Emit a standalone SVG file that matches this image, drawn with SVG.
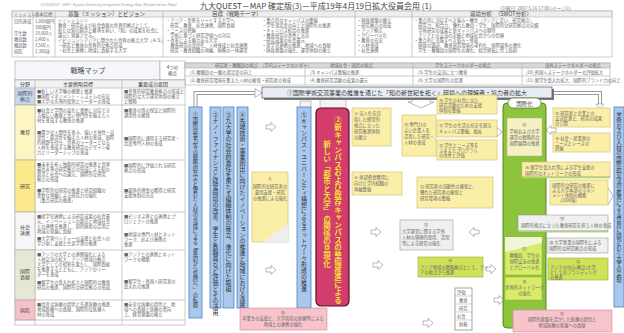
<svg xmlns="http://www.w3.org/2000/svg" width="624" height="333" viewBox="0 0 624 333">
<style>
text{font-family:"Noto Sans CJK JP","Noto Sans CJK SC",sans-serif}
.t{font-size:4.3px;fill:#666}
.h{font-size:5.5px;fill:#444}
.lb{font-size:5px;fill:#444;text-anchor:middle}
.v{font-size:6px;fill:#333;writing-mode:vertical-rl}
.cell{stroke:#aaa;stroke-width:0.6}
.bar{fill:#a9c8ee;stroke:#4f7fbf;stroke-width:0.8}
.yb{fill:#fbefa8;stroke:#c9bd6c;stroke-width:0.6}
.gb{fill:#f0f0f0;stroke:#999;stroke-width:0.6}
.yg{fill:#cfe25a;stroke:#98ae2e;stroke-width:0.6}
.pk{fill:#f7c4cc;stroke:#d28a98;stroke-width:0.6}
.ho{fill:none;stroke:#9a9a9a;stroke-width:4}
.hi{fill:none;stroke:#fff;stroke-width:2}
.ar{fill:#fff;stroke:#999;stroke-width:0.7}
</style>
<defs>
<path id="arr" d="M0,-2 H5 V-4.5 L10,0 L5,4.5 V2 H0 Z"/>
</defs>
<rect width="624" height="333" fill="#fff"/>

<g id="title">
<text x="40" y="6" style="font-size:3.5px;fill:#999">(九大QUEST－MAP : Kyushu University Integrated Strategy Map (Mission Action Map))</text>
<text x="200" y="9" style="font-size:8px;fill:#444">九大QUEST－MAP  確定版(3)－平成19年4月19日拡大役員会用  (1)</text>
<text x="500" y="10" style="font-size:4.5px;fill:#777">(記載日: 2007.5.16  17:00  (ページ1))</text>
</g>

<g id="header">
<rect x="12" y="11" width="600" height="46" fill="#fff" class="cell"/>
<rect x="12" y="11" width="600" height="6" fill="#eee" class="cell"/>
<line x1="33" y1="11" x2="33" y2="57" class="cell"/>
<line x1="55" y1="11" x2="55" y2="57" class="cell"/>
<line x1="163" y1="11" x2="163" y2="57" class="cell"/>
<line x1="355" y1="11" x2="355" y2="57" class="cell"/>
<line x1="412" y1="11" x2="412" y2="57" class="cell"/>
<text x="14" y="15.5" class="t">ミッション</text><text x="35" y="15.5" class="t">基本目標</text>
<text x="68" y="15.8" class="h">基盤（ミッション）とビジョン</text>
<text x="212" y="15.8" class="h">目標（戦略テーマ）</text>
<text x="470" y="15.8" class="h">環境分析　（SWOT分析）</text>
<g class="t">
<text x="14" y="23">目的達成</text><text x="35" y="23">1,000億円</text>
<text x="35" y="29">300億円</text>
<text x="14" y="35">学生数</text><text x="35" y="35">19,000人</text>
<text x="14" y="41">教員数</text><text x="35" y="41">2,400人</text>
<text x="14" y="47">職員数</text><text x="35" y="47">3,500人</text>
<text x="14" y="53">病院</text><text x="35" y="53">1,300床</text>
<text x="58" y="22">＜ミッション＞</text>
<text x="58" y="27">教育・研究および社会貢献の世界的拠点として、</text>
<text x="58" y="32">新たな知の創造と継承を担い、「知」の成果を社会に</text>
<text x="58" y="37">還元し発展させる。</text>
<text x="58" y="42">＜ビジョン＞アジアに開かれた世界の拠点大学（ＡＳ）</text>
<text x="58" y="47">・研究と教育の世界的な拠点形成</text>
<text x="58" y="52">・社会と連携し地域に貢献する大学</text>
<text x="166" y="22">・アジア・世界をリードする大学へ</text>
<text x="166" y="27">　研究、教育、社会連携、国際貢献</text>
<text x="166" y="32">・ニーズの把握</text>
<text x="166" y="37">　学術に基づく研究評価への対応</text>
<text x="166" y="42">・改革による魅力ある大学</text>
<text x="166" y="47">　教育研究の高度化、人材育成と社会連携</text>
<text x="166" y="52">　研究・教育組織の再編、財務の一体運営</text>
<text x="262" y="22">・重点的なキャンパスの整備</text>
<text x="262" y="27">・学生満足度の向上と国際化の推進</text>
<text x="262" y="32">・キャンパス統合の推進</text>
<text x="262" y="37">・教育研究の改善と充実</text>
<text x="262" y="42">・研究成果の社会還元</text>
<text x="262" y="47">・産学官連携の推進、地域への貢献</text>
<text x="262" y="52">・財政基盤の強化、運営体制の確立</text>
<text x="357" y="22">・財政基盤の確立</text>
<text x="357" y="27">・研究拠点の形成</text>
<text x="357" y="32">・アジア拠点</text>
<text x="357" y="37">・グローバル化</text>
<text x="357" y="42">・教育の充実</text>
<text x="357" y="47">・人材育成</text>
<text x="357" y="52">・社会連携</text>
<text x="414" y="22">・重点的に対応すべき強み・機会（アジアに近い、研究拠点）</text>
<text x="414" y="27">　研究力、総合力、優れた教員・学生、国際的な研究拠点の実績</text>
<text x="414" y="32">　学術研究の成果と新キャンパスへの期待</text>
<text x="414" y="37">　アジアとの交流の実績と地域社会からの信頼</text>
<text x="414" y="42">・重点的に克服すべき弱み・脅威</text>
<text x="414" y="47">　財政の逼迫、教育研究環境の老朽化、国際競争の激化</text>
<text x="414" y="52">　学生・教職員の国際化の遅れ、統合移転に伴う負担</text>
</g>
</g>

<g id="perspectives">
<rect x="15" y="61" width="145" height="19" fill="#f4f6fa" class="cell"/>
<text x="88" y="73" style="font-size:7px;fill:#444;text-anchor:middle">戦略マップ</text>
<rect x="160" y="61" width="25" height="19" fill="#fff" class="cell"/>
<text x="172.5" y="69" class="lb" style="font-size:4.5px">4つの</text>
<text x="172.5" y="75" class="lb" style="font-size:4.5px">視点</text>
<rect x="185" y="63" width="425" height="22" fill="#fff" class="cell"/>
<rect x="185" y="63" width="425" height="5" fill="#d8d8d8" class="cell"/>
<line x1="305" y1="63" x2="305" y2="85" class="cell"/>
<line x1="413" y1="63" x2="413" y2="85" class="cell"/>
<line x1="522" y1="63" x2="522" y2="85" class="cell"/>
<line x1="185" y1="76" x2="610" y2="76" class="cell"/>
<g class="t">
<text x="215" y="67">研究者・教職員の視点　（学内ステークホルダー）</text>
<text x="330" y="67">地域社会・国民の視点</text>
<text x="435" y="67">学生ステークホルダーの視点</text>
<text x="545" y="67">海外ステークホルダーの視点</text>
<text x="190" y="73.5">(1) 教職員の一層の満足度の向上</text>
<text x="190" y="82">(2) 教育研究環境を整えた人材の確保・研究者の育成</text>
<text x="310" y="73.5">(3) キャンパス整備の推進</text>
<text x="310" y="82">(4) 教育研究活動の成果の還元</text>
<text x="418" y="73.5">(5) 学生の交流に立つ教育</text>
<text x="418" y="82">(6) 大学の国際化の促進</text>
<text x="526" y="73.5">(10) 外国人ステークホルダーの評価拡大</text>
<text x="526" y="82">(11) 留学生受入れ拡大、国際的ブランド力の向上</text>
</g>
</g>

<g id="left-table">
<rect x="15" y="80" width="170" height="245" fill="#fff" class="cell"/>
<rect x="15" y="80" width="170" height="8" fill="#f2f2f2" class="cell"/>
<text x="25" y="86" class="lb">分野</text>
<text x="78" y="86" class="lb">主要戦略目標</text>
<text x="153" y="86" class="lb">重要成功要因</text>
<line x1="35" y1="80" x2="35" y2="325" class="cell"/>
<line x1="122" y1="80" x2="122" y2="325" class="cell"/>
<rect x="15" y="88" width="20" height="17" fill="#c6d6f0" class="cell"/>
<rect x="15" y="105" width="20" height="55" fill="#fdf5c2" class="cell"/>
<rect x="15" y="160" width="20" height="52" fill="#fbe98c" class="cell"/>
<rect x="15" y="212" width="20" height="38" fill="#f6f6f6" class="cell"/>
<rect x="15" y="250" width="20" height="50" fill="#e6e8d6" class="cell"/>
<rect x="15" y="300" width="20" height="20" fill="#f5c0c8" class="cell"/>
<line x1="35" y1="105" x2="185" y2="105" class="cell"/>
<line x1="35" y1="160" x2="185" y2="160" class="cell"/>
<line x1="35" y1="212" x2="185" y2="212" class="cell"/>
<line x1="35" y1="250" x2="185" y2="250" class="cell"/>
<line x1="35" y1="300" x2="185" y2="300" class="cell"/>
<line x1="15" y1="320" x2="185" y2="320" class="cell"/>
<g class="lb">
<text x="25" y="95">国際的</text><text x="25" y="101">拠点</text>
<text x="25" y="134">教育</text>
<text x="25" y="188">研究</text>
<text x="25" y="229">社会</text><text x="25" y="235">連携</text>
<text x="25" y="273">国際</text><text x="25" y="279">貢献</text>
<text x="25" y="312">病院</text>
</g>
<g class="t">
<text x="37" y="93">■新しい大学像の構築と推進</text>
<text x="37" y="98">■国際マネジメント・システムの充実</text>
<text x="37" y="103">■大学の先導的役割とリーダーの育成</text>
<text x="124" y="93">■世界的研究教育拠点の形成と</text>
<text x="124" y="98">国際的な大学運営体制の確立</text>
<text x="124" y="103">と戦略</text>
<text x="37" y="112">■社会と学問の変化に柔軟に対応でき</text>
<text x="37" y="117">る幅広い教養と高い専門性を備えた人</text>
<text x="37" y="122">材を育成する教育の推進</text>
<text x="37" y="134">■豊かな人間性を育み、強い主体性・自</text>
<text x="37" y="139">律性・創造性を備えた人材の育成、国際</text>
<text x="37" y="144">的視野を持ち、世界のリーダーとなる</text>
<text x="37" y="149">人材を育成する教育研究のデザイン能</text>
<text x="37" y="154">力とリーダーシップの育成</text>
<text x="124" y="112">■教育の質の保証と国際的</text>
<text x="124" y="117">通用性の確保</text>
<text x="124" y="140">■国際的に通用する研究者・</text>
<text x="124" y="145">高度専門人材の育成</text>
<text x="37" y="166">■未来を拓く独創的研究の推進と世界</text>
<text x="37" y="171">最高水準の研究拠点の形成による知の</text>
<text x="37" y="176">創造と社会への還元、国際的な研究</text>
<text x="37" y="181">拠点の形成</text>
<text x="37" y="192">■学際的な研究の推進と研究組織の</text>
<text x="37" y="197">柔軟な再編による研究力の強化</text>
<text x="37" y="202">（重点研究の推進）</text>
<text x="124" y="167">■国際的に評価される研究</text>
<text x="124" y="172">拠点の形成</text>
<text x="124" y="192">■競争的資金の獲得と研究</text>
<text x="124" y="197">支援体制の充実</text>
<text x="37" y="218">■産学官連携による研究成果の社会還</text>
<text x="37" y="223">元、イノベーションの創出と地域社会</text>
<text x="37" y="228">との連携を推進し、知的財産の活用と</text>
<text x="37" y="233">地域の発展に貢献</text>
<text x="37" y="240">■大学発ベンチャーの支援と社会人の</text>
<text x="37" y="245">学び直し支援と生涯学習の推進</text>
<text x="124" y="218">■ビジネス界との連携とプ</text>
<text x="124" y="223">ロジェクトの推進</text>
<text x="124" y="236">■地域の専門人材とネット</text>
<text x="124" y="241">ワーク、および連携の</text>
<text x="124" y="246">推進</text>
<text x="37" y="256">■アジアの大学との連携強化による</text>
<text x="37" y="261">人材交流の拡大、アジア地域の拠点</text>
<text x="37" y="266">大学としての役割を果たし、国際貢献</text>
<text x="37" y="271">を推進するとともに、アジアのリー</text>
<text x="37" y="276">ダーを育成</text>
<text x="37" y="284">■留学生の受入れ拡大と国際的な教育</text>
<text x="37" y="289">研究の推進、国際的な研究拠点の形成</text>
<text x="124" y="256">■アジアとの連携とネット</text>
<text x="124" y="261">ワークの構築</text>
<text x="124" y="283">■留学生・外国人研究者の</text>
<text x="124" y="288">受入れの推進</text>
<text x="37" y="306">■高度な医療の提供と先進医療の推進、</text>
<text x="37" y="311">地域医療への貢献、国際的な医療人</text>
<text x="37" y="316">材の育成</text>
<text x="124" y="306">■安全な医療の提供と、地</text>
<text x="124" y="311">域への貢献と医療の質向</text>
<text x="124" y="316">上、経営基盤の確立</text>
</g>
</g>

<g id="connectors">
<path d="M195.5,108 V93 H256" class="ho"/><path d="M195.5,108 V93 H256" class="hi"/>
<path d="M255,88.5 L262,93 L255,97.5 Z" class="ar"/>
<path d="M552,93 H600 V106" class="ho"/><path d="M552,93 H600 V106" class="hi"/>
<path d="M596,104 L600,109 L604,104 Z" class="ar"/>
<path d="M320,108 V99 H346 V108" fill="#f3f3f3" stroke="#aaa" stroke-width="0.7"/>
<path d="M300,108 V101 H311 V108" fill="#f3f3f3" stroke="#aaa" stroke-width="0.7"/>
<path d="M412,98 H430 V102 H434 L421,108 L408,102 H412 Z" class="ar"/>
<use href="#arr" x="266" y="127" class="ar"/>
<use href="#arr" x="266" y="270" class="ar"/>
<use href="#arr" x="371" y="232" class="ar"/>
<use href="#arr" x="373" y="265" class="ar"/>
<use href="#arr" x="492" y="132" class="ar"/>
<use href="#arr" transform="translate(556,130) rotate(180)" class="ar"/>
<use href="#arr" transform="translate(479,232) rotate(180)" class="ar"/>
<use href="#arr" x="486" y="269" class="ar"/>
<use href="#arr" x="423" y="323" class="ar"/>
<use href="#arr" x="494" y="300" class="ar"/>
<path d="M608,188 L613,196 L608,205 L603,196 Z" class="ar"/>
</g>

<g id="banner">
<rect x="264" y="89" width="290" height="11" fill="#7a7a7a"/>
<rect x="262" y="87" width="290" height="11" fill="#e9eef5" stroke="#555" stroke-width="0.7"/>
<text x="407" y="94.5" style="font-size:6px;fill:#333;text-anchor:middle">①国際学術交流事業の推進を通じた「知の新世紀を拓く」環境への理解者・協力者の拡大</text>
</g>

<g id="bar1"><rect x="189" y="107" width="13" height="211" class="bar"/>
<text x="195.5" y="112" class="v" style="font-size:5.3px">①国際競争力等の戦略的充実と優れた人材の育成による「量的から質的へ」の転換</text></g>
<g id="bar2"><rect x="210" y="107" width="11" height="201" class="bar"/>
<text x="215.5" y="112" class="v">②ナノ・ファイナンスと経営環境の改善、学生と教職員など評価とその活用</text></g>
<g id="bar3"><rect x="223" y="107" width="11" height="201" class="bar"/>
<text x="228.5" y="112" class="v">③九大学の社会的責任を果たす組織体制の確立、進化に向けた取組</text></g>
<g id="bar4"><rect x="237" y="107" width="11" height="201" class="bar"/>
<text x="242.5" y="112" class="v">④先端技術・事業創出に向けたイノベーションの推進と地域における連携</text></g>
<g id="bar5"><rect x="297" y="107" width="14" height="201" class="bar"/>
<text x="304" y="112" class="v">⑤キャンパス・ユニバーシティ構想によるネットワーク形成の推進</text></g>

<g id="red-box">
<rect x="316" y="108" width="33" height="198" rx="5" fill="#d23d6b" stroke="#5a1028" stroke-width="1.2"/>
<text x="338" y="116" class="v" style="font-size:7.5px;fill:#f7df3a;font-weight:bold">②新キャンパスおよび既存キャンパスの整備推進による</text>
<text x="327" y="140" class="v" style="font-size:7.5px;fill:#f7df3a;font-weight:bold">新しい「都市と大学」の関係の具現化</text>
</g>

<g id="green-col">
<rect x="503" y="103" width="43" height="225" rx="4" fill="#8cc43e" stroke="#4d7a1e" stroke-width="0.9"/>
<rect x="508" y="98" width="33" height="10" rx="5" fill="#fff" stroke="#4d7a1e" stroke-width="0.7"/>
<text x="524.5" y="105.5" class="lb" style="font-size:5.5px">国際化</text>
<rect x="507" y="118" width="35" height="38" fill="#f5f1c4" stroke="#b8b070" stroke-width="0.5"/>
<g class="t" style="text-anchor:middle"><text x="524.5" y="126">⑫</text><text x="524.5" y="133">学術および大学</text><text x="524.5" y="139">運営の戦略的な</text><text x="524.5" y="145">国際展開の推進</text></g>
<path d="M505,237 H542 V275 H505 Z" fill="#d9ec6a" stroke="#98ae2e" stroke-width="0.5"/>
<path d="M505,237 H542 V243 L505,252 Z" fill="#f0f4d8"/>
<g class="t" style="text-anchor:middle"><text x="524.5" y="250">⑰</text><text x="524.5" y="257">教職員、学生の</text><text x="524.5" y="263">国際交流の推進</text><text x="524.5" y="269">とグローバル化</text></g>
<rect x="505" y="277" width="37" height="23" fill="#d9ec6a" stroke="#98ae2e" stroke-width="0.5"/>
<g class="t" style="text-anchor:middle"><text x="524.5" y="283">⑱</text><text x="524.5" y="289">世界的ネットワーク</text><text x="524.5" y="295">の強化</text></g>
</g>

<g id="box-y1"><rect x="352" y="108" width="39" height="38" class="yb"/>
<g class="t"><text x="354" y="115">⑤ 法人化を目</text><text x="354" y="121">指した経営的</text><text x="354" y="127">視点に立った</text><text x="354" y="133">研究推進体制</text><text x="354" y="139">の確立</text></g></g>
<g id="box-y2"><rect x="352" y="172" width="50" height="23" class="yb"/>
<g class="t"><text x="354" y="179">⑥ 外部資金獲得に</text><text x="354" y="185">向けた学内組織の</text><text x="354" y="191">再編整備</text></g></g>
<g id="box-y3"><path d="M252,172 H288 V242 H252 Z" class="yb"/>
<path d="M288,224 V242 H262 Z" fill="#eee"/>
<g class="t" style="text-anchor:middle"><text x="270" y="180">⑧</text><text x="270" y="188">国際的な研究者の</text><text x="270" y="194">雇用支援・研究</text><text x="270" y="200">の推進による強化</text></g></g>
<g id="box-y4"><rect x="402" y="115" width="34" height="41" class="yb"/>
<g class="t"><text x="404" y="126">⑨ 専門力の</text><text x="404" y="132">よい企業人を</text><text x="404" y="138">活用した研究・</text><text x="404" y="144">人材の育成</text></g></g>
<g id="box-y5"><rect x="437" y="95" width="60" height="19" class="yb"/>
<g class="t"><text x="439" y="102">⑩ 学生の社会に出た</text><text x="439" y="107">研究活動のための支援</text><text x="439" y="112">体制の整備</text></g></g>
<g id="box-y6"><rect x="437" y="120" width="60" height="17" class="yb"/>
<g class="t"><text x="439" y="127">⑪ 学生の生活の充実を図る</text><text x="439" y="133">キャンパス整備、福祉</text></g></g>
<g id="box-y7"><rect x="437" y="140" width="60" height="20" class="yb"/>
<g class="t"><text x="439" y="147">⑫ 学生とニーズ等を</text><text x="439" y="152">ふまえたプログラム</text><text x="439" y="157">の改善と評価</text></g></g>
<g id="box-y8"><rect x="553" y="108" width="57" height="19" class="yb"/>
<g class="t"><text x="555" y="115">⑭ 研究者と企業との</text><text x="555" y="120">交流促進と、研究の成果</text><text x="555" y="125">の公開</text></g></g>
<g id="box-y9"><rect x="553" y="133" width="57" height="19" class="yb"/>
<g class="t"><text x="555" y="140">⑮ 社会・産業界の</text><text x="555" y="145">ニーズとシーズの</text><text x="555" y="150">把握</text></g></g>
<g id="box-y10"><rect x="522" y="162" width="88" height="16" class="yb"/>
<line x1="522" y1="177" x2="610" y2="177" stroke="#8cc43e" stroke-width="1.2"/>
<g class="t"><text x="525" y="169">⑯ 留学生受入れ等による学生支援の</text><text x="525" y="175">国際的なネットワークの形成</text></g></g>
<g id="box-y11"><rect x="417" y="177" width="76" height="31" class="yb"/>
<g class="t"><text x="420" y="188">⑬ 研究者の流動性の確保と、</text><text x="420" y="194">優れた研究者の確保と</text><text x="420" y="200">研究環境の整備</text></g></g>
<g id="box-y12"><rect x="550" y="180" width="58" height="25" class="yb"/>
<g class="t"><text x="552" y="187">国際的な研究の推進に</text><text x="552" y="192">よる大学本部のマネジ</text><text x="552" y="197">メント体制の構築</text><text x="560" y="202">(1000億)</text></g></g>
<g id="box-g1"><rect x="400" y="220" width="53" height="30" class="gb"/>
<g class="t"><text x="424" y="226">⑬</text><text x="402" y="233">大学運営に関する学外</text><text x="402" y="239">人材の積極的登用、活用</text><text x="402" y="245">等による経営の強化</text></g></g>
<g id="box-g2"><rect x="518" y="215" width="90" height="17" class="gb"/>
<line x1="518" y1="231" x2="608" y2="231" stroke="#8cc43e" stroke-width="1.2"/>
<g class="t"><text x="560" y="220">⑲</text><text x="521" y="227">国際的視点に立った教育研究を担う人材の育成</text></g></g>
<g id="box-g3"><rect x="547" y="238" width="61" height="15" class="gb"/>
<g class="t"><text x="549" y="244">⑳ 大学事業の国際化による</text><text x="549" y="250">国際的な研究拠点の形成</text></g></g>
<g id="box-yg1"><rect x="418" y="257" width="65" height="20" class="yg"/>
<g class="t"><text x="448" y="262">⑭</text><text x="420" y="269">アジア地域の戦略拠点として、アジ</text><text x="420" y="274">アの視点から推進</text></g></g>
<g id="box-yg2"><rect x="548" y="258" width="60" height="22" class="yg"/>
<g class="t"><text x="576" y="263">㉑</text><text x="550" y="269">アジアの中心(拠点)大学</text><text x="550" y="274">としてのブランディング</text><text x="550" y="279">の推進</text></g></g>
<g id="box-table"><rect x="455" y="288" width="17" height="42" fill="#fff" stroke="#666" stroke-width="0.6"/>
<line x1="455" y1="296" x2="472" y2="296" stroke="#888" stroke-width="0.4"/>
<line x1="455" y1="304" x2="472" y2="304" stroke="#888" stroke-width="0.4"/>
<line x1="455" y1="312" x2="472" y2="312" stroke="#888" stroke-width="0.4"/>
<line x1="455" y1="320" x2="472" y2="320" stroke="#888" stroke-width="0.4"/>
<g class="t"><text x="457" y="294">評価</text><text x="459" y="302">教育</text><text x="459" y="310">研究</text><text x="457" y="318">社会</text><text x="459" y="326">財務</text></g></g>
<g id="box-p1"><rect x="240" y="308" width="87" height="22" class="pk"/>
<g class="t"><text x="283" y="314" style="text-anchor:middle">⑩</text><text x="283" y="320" style="text-anchor:middle">卒業生の支援と、大学病院の医療等による</text><text x="283" y="326" style="text-anchor:middle">地域との連携の強化</text></g></g>
<g id="box-p2"><rect x="513" y="310" width="99" height="22" class="pk"/>
<g class="t"><text x="562" y="315" style="text-anchor:middle">㉒</text><text x="562" y="321" style="text-anchor:middle">国際的基盤を活かした医療の提供と</text><text x="562" y="327" style="text-anchor:middle">地域医療の発展への貢献</text></g></g>
<g id="right-bar"><rect x="614" y="107" width="10" height="200" class="bar"/>
<text x="619" y="112" class="v" style="font-size:5.5px">学術および人材の国際的交流の推進による世界に開かれた大学の実現</text></g>
</svg>
